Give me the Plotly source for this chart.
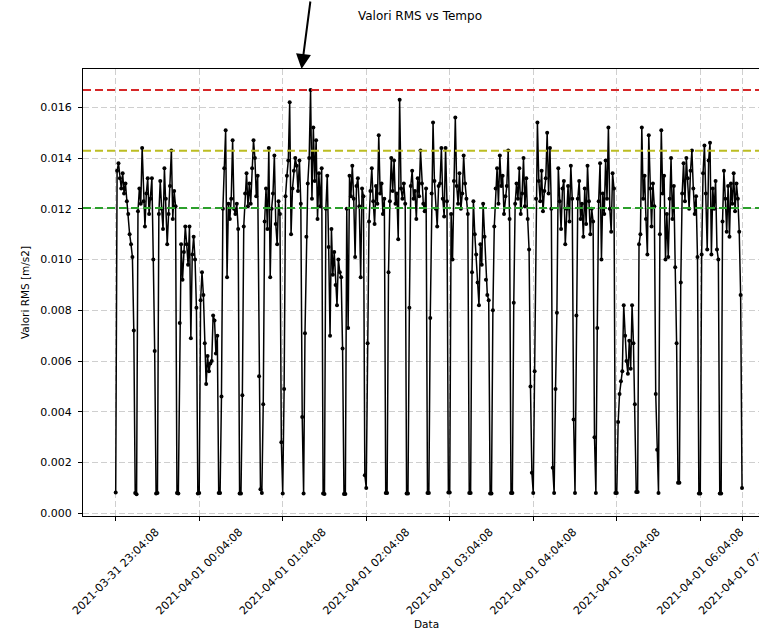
import plotly.graph_objects as go

# RMS values (m/s2), one sample per minute, 15-sample cycles
rms = [
    0.00082, 0.0135, 0.0138, 0.0132, 0.0128, 0.0134, 0.0126, 0.0130, 0.0123, 0.0118, 0.0110, 0.0106, 0.0101, 0.0072, 0.00080,
    0.00075, 0.0119, 0.0128, 0.0122, 0.0144, 0.0123, 0.0113, 0.0126, 0.0132, 0.0118, 0.0124, 0.0132, 0.0100, 0.0064, 0.00078,
    0.00080, 0.0118, 0.0131, 0.0120, 0.0112, 0.0136, 0.0124, 0.0106, 0.0118, 0.0129, 0.0143, 0.0116, 0.0127, 0.0121, 0.00080,
    0.00078, 0.0075, 0.0106, 0.0092, 0.0103, 0.0113, 0.0106, 0.0098, 0.0113, 0.0069, 0.0102, 0.0109, 0.0100, 0.0081, 0.00078,
    0.00080, 0.0084, 0.0095, 0.0086, 0.0067, 0.0051, 0.0062, 0.0056, 0.0059, 0.0060, 0.0078, 0.0076, 0.0063, 0.0070, 0.00080,
    0.00080, 0.0046, 0.0120, 0.0136, 0.0151, 0.0093, 0.0122, 0.0116, 0.0124, 0.0147, 0.0120, 0.0118, 0.0122, 0.0112, 0.00078,
    0.00078, 0.00465, 0.0113, 0.0126, 0.0134, 0.0121, 0.0130, 0.0122, 0.0136, 0.0147, 0.0140, 0.0125, 0.0133, 0.0054, 0.00095,
    0.00080, 0.0043, 0.0115, 0.0128, 0.0112, 0.0144, 0.0093, 0.0120, 0.0126, 0.0141, 0.0114, 0.0106, 0.0123, 0.0118, 0.0028,
    0.00078, 0.0049, 0.0125, 0.0133, 0.0139, 0.0162, 0.0110, 0.0128, 0.0135, 0.0140, 0.0137, 0.0127, 0.0139, 0.0122, 0.0038,
    0.00078, 0.0071, 0.0109, 0.0130, 0.0140, 0.01668, 0.0124, 0.0152, 0.0131, 0.0147, 0.0116, 0.0134, 0.0121, 0.0136, 0.00078,
    0.00076, 0.0120, 0.0133, 0.0105, 0.0070, 0.0112, 0.0094, 0.0103, 0.0090, 0.0082, 0.0100, 0.0095, 0.0093, 0.0065, 0.00076,
    0.00076, 0.0120, 0.0073, 0.0133, 0.0125, 0.0137, 0.0124, 0.0101, 0.0129, 0.0132, 0.0121, 0.0093, 0.0128, 0.0125, 0.0015,
    0.00100, 0.0067, 0.0115, 0.0127, 0.0136, 0.0123, 0.0114, 0.0129, 0.0122, 0.0149, 0.0126, 0.0130, 0.0118, 0.0124, 0.00080,
    0.00080, 0.0095, 0.0123, 0.0140, 0.0127, 0.0139, 0.0122, 0.0126, 0.0108, 0.0163, 0.0128, 0.0124, 0.0130, 0.0122, 0.00078,
    0.00078, 0.0081, 0.0129, 0.0135, 0.0124, 0.0127, 0.0116, 0.0132, 0.0125, 0.0143, 0.0130, 0.0122, 0.0119, 0.0128, 0.00080,
    0.00080, 0.0077, 0.0126, 0.0154, 0.0131, 0.0120, 0.0113, 0.0129, 0.0130, 0.0144, 0.0124, 0.0117, 0.0144, 0.0123, 0.00082,
    0.00082, 0.0118, 0.0100, 0.0131, 0.0156, 0.0129, 0.0122, 0.0134, 0.0120, 0.0126, 0.0141, 0.0130, 0.0124, 0.0118, 0.00080,
    0.00080, 0.0095, 0.0123, 0.0110, 0.0102, 0.0091, 0.0082, 0.0106, 0.0098, 0.0122, 0.0109, 0.0092, 0.0086, 0.0084, 0.00078,
    0.00078, 0.0080, 0.0113, 0.0128, 0.0136, 0.0122, 0.0141, 0.0129, 0.0133, 0.0118, 0.0125, 0.0129, 0.0143, 0.0116, 0.00080,
    0.00080, 0.0083, 0.0122, 0.0130, 0.0124, 0.0136, 0.0118, 0.0126, 0.0140, 0.0121, 0.0132, 0.0116, 0.0104, 0.0050, 0.0016,
    0.00080, 0.0056, 0.0124, 0.0154, 0.0131, 0.0123, 0.0135, 0.0119, 0.0127, 0.0132, 0.0150, 0.0126, 0.0144, 0.0120, 0.0018,
    0.00080, 0.0049, 0.0079, 0.0136, 0.0123, 0.0112, 0.0128, 0.0131, 0.0106, 0.0120, 0.0129, 0.0115, 0.0137, 0.0124, 0.0037,
    0.00080, 0.0078, 0.0124, 0.0131, 0.0116, 0.0122, 0.0109, 0.0128, 0.0114, 0.0137, 0.0123, 0.0110, 0.0120, 0.0115, 0.0030,
    0.00080, 0.0073, 0.0123, 0.0138, 0.0100, 0.0126, 0.0118, 0.0139, 0.0124, 0.0152, 0.0120, 0.0111, 0.0134, 0.0128, 0.00080,
    0.00080, 0.0036, 0.0047, 0.0052, 0.0056, 0.0082, 0.0070, 0.0060, 0.0055, 0.0068, 0.0057, 0.0082, 0.0067, 0.0043, 0.00084,
    0.00084, 0.0106, 0.0110, 0.0152, 0.0124, 0.0133, 0.0116, 0.0102, 0.0149, 0.0128, 0.0113, 0.0130, 0.0121, 0.0047, 0.0025,
    0.00080, 0.0110, 0.0151, 0.0126, 0.0133, 0.0100, 0.0118, 0.0101, 0.0124, 0.0140, 0.0116, 0.0129, 0.0097, 0.0067, 0.0012,
    0.00120, 0.0091, 0.0126, 0.0138, 0.0123, 0.0140, 0.0132, 0.0120, 0.0135, 0.0143, 0.0128, 0.0118, 0.0125, 0.0101, 0.00078,
    0.00078, 0.0102, 0.0134, 0.0145, 0.0126, 0.0104, 0.0139, 0.0146, 0.0102, 0.0128, 0.0120, 0.0131, 0.0104, 0.0100, 0.00078,
    0.00078, 0.0115, 0.0135, 0.0124, 0.0111, 0.0129, 0.0109, 0.0130, 0.0122, 0.0134, 0.0119, 0.0130, 0.0124, 0.0111, 0.0086,
    0.00100,
]
sample_index = list(range(len(rms)))

tick_index = [0, 60, 120, 180, 240, 300, 360, 420, 450]
tick_labels = [
    "2021-03-31 23:04:08", "2021-04-01 00:04:08", "2021-04-01 01:04:08",
    "2021-04-01 02:04:08", "2021-04-01 03:04:08", "2021-04-01 04:04:08",
    "2021-04-01 05:04:08", "2021-04-01 06:04:08", "2021-04-01 07:04:08",
]
y_ticks = [0.000, 0.002, 0.004, 0.006, 0.008, 0.010, 0.012, 0.014, 0.016]

threshold_max = 0.01668
threshold_alarm = 0.01429
threshold_warn = 0.01203

fig = go.Figure()
fig.add_trace(go.Scatter(
    x=sample_index, y=rms, mode="lines+markers",
    line=dict(color="black", width=1.5),
    marker=dict(color="black", size=4),
    showlegend=False, hoverinfo="skip",
))

for val, col in [(threshold_max, "#d62728"), (threshold_alarm, "#bcbd22"), (threshold_warn, "#2ca02c")]:
    fig.add_hline(y=val, line=dict(color=col, width=2, dash="8px,4px"), layer="above")

imax = max(sample_index, key=lambda i: rms[i])
fig.add_annotation(
    x=imax, y=1, xref="x", yref="paper", text="",
    showarrow=True, arrowhead=2, arrowsize=1.5, arrowwidth=2, arrowcolor="black",
    axref="pixel", ayref="pixel", ax=9, ay=-72, xshift=-9,
)

fig.add_annotation(
    x=(426 - 83) / 676, y=-(624 - 516) / 447, xref="paper", yref="paper", text="Data",
    showarrow=False, font=dict(size=10.5, color="black"), xanchor="center", yanchor="middle",
)

fig.update_layout(
    template="none",
    width=759, height=631,
    margin=dict(l=83, r=0, t=69, b=115, pad=0),
    paper_bgcolor="white", plot_bgcolor="white",
    font=dict(family="DejaVu Sans", size=10.5, color="black"),
    title=dict(text="Valori RMS vs Tempo", x=420 / 759, xref="container", xanchor="center",
               y=1 - 16 / 631, yref="container", yanchor="middle", font=dict(size=12)),
    showlegend=False,
)

fig.update_xaxes(
    range=[-23.5, 462.2], tickmode="array", tickvals=tick_index, ticktext=tick_labels,
    tickangle=-45, ticks="outside", ticklen=4, tickwidth=1, tickcolor="black",
    showline=True, linecolor="black", linewidth=1.3, mirror=True,
    showgrid=True, gridcolor="#cfcfcf", gridwidth=1, griddash="6px,3px",
    zeroline=False, ticklabelshift=40, ticklabeloverflow="allow",
    tickfont=dict(size=11), automargin=False,
)
fig.update_yaxes(
    range=[-0.000106, 0.01751], tickmode="array", tickvals=y_ticks, tickformat=".3f",
    ticks="outside", ticklen=4, tickwidth=1, tickcolor="black",
    showline=True, linecolor="black", linewidth=1.3, mirror=False,
    showgrid=True, gridcolor="#cfcfcf", gridwidth=1, griddash="6px,3px",
    zeroline=False, tickfont=dict(size=11), automargin=False, ticklabelstandoff=4,
    title=dict(text="Valori RMS [m/s2]", font=dict(size=10.5), standoff=8),
)

fig.write_html("out.html", config={"displayModeBar": False},
               post_script="document.body.style.margin='0';")
